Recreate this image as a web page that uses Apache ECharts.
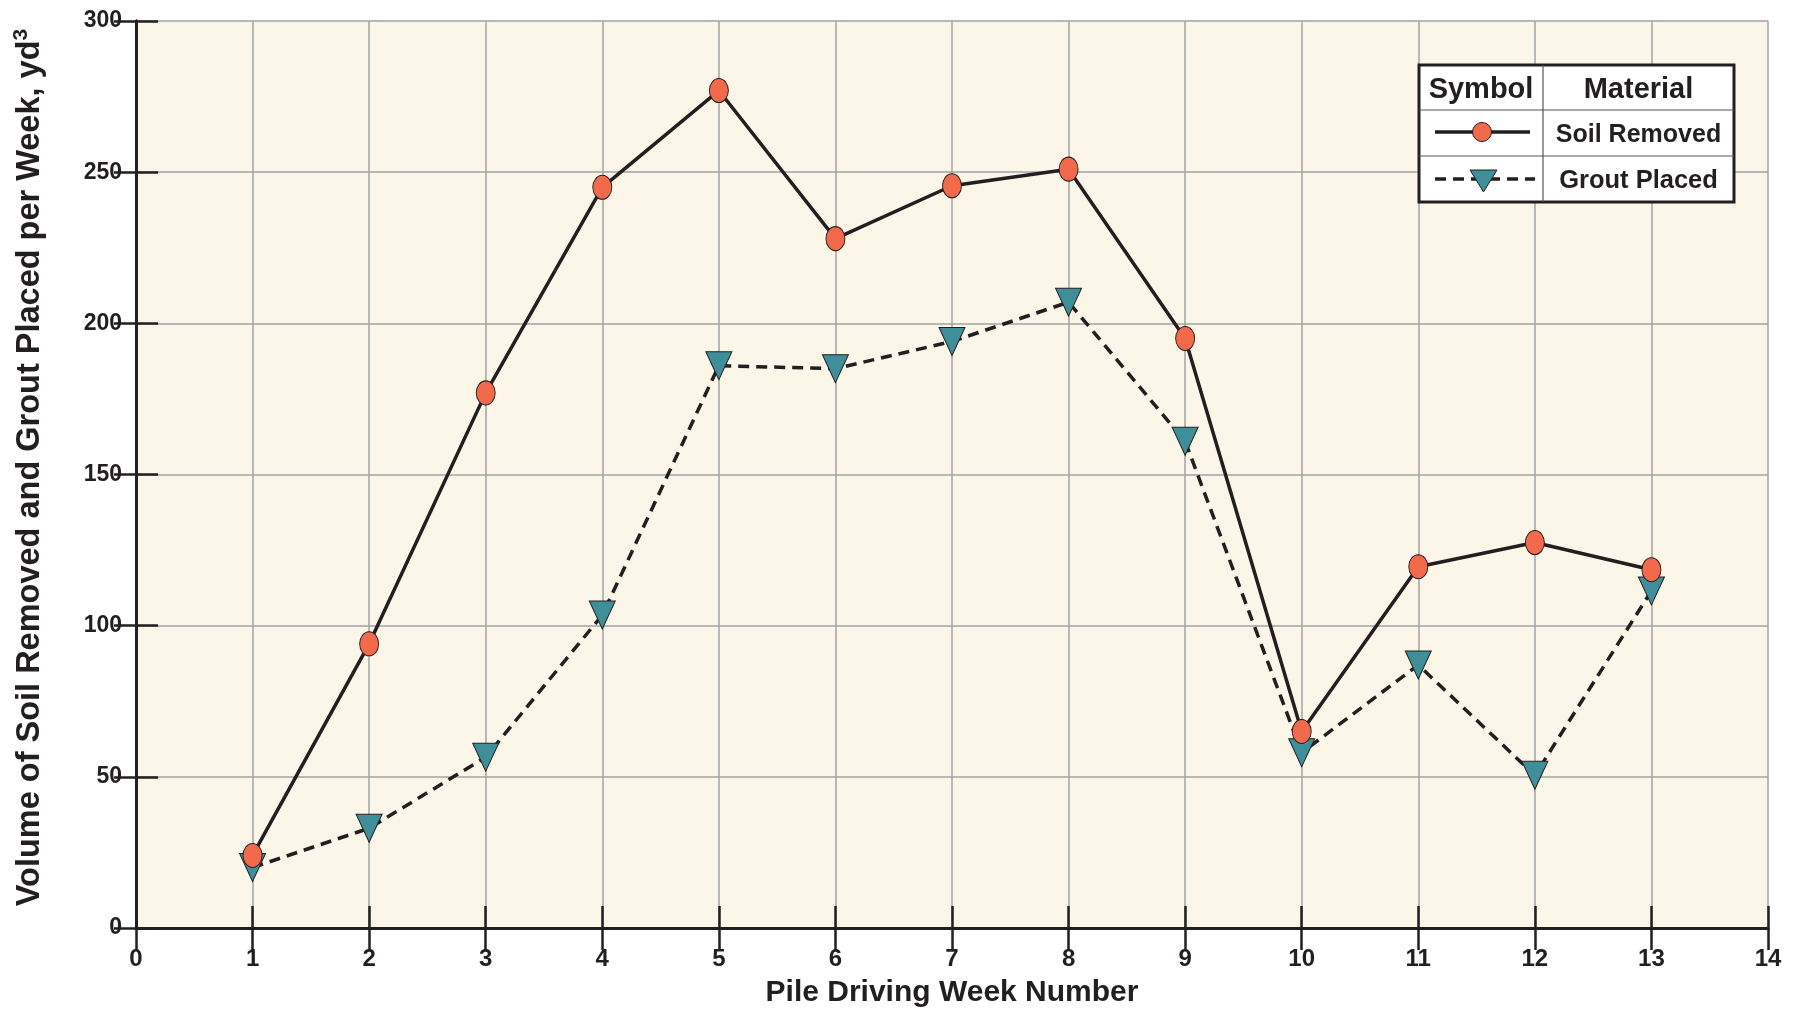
<!DOCTYPE html>
<html>
<head>
<meta charset="utf-8">
<script src="https://cdn.jsdelivr.net/npm/echarts@6/dist/echarts.min.js"></script>
<style>
  html, body { margin: 0; padding: 0; background: #fff; }
  #chart { width: 1805px; height: 1013px; }
</style>
</head>
<body>
<div id="chart"></div>
<script>
// week numbers and weekly volumes (yd3)
var weeks = [1, 2, 3, 4, 5, 6, 7, 8, 9, 10, 11, 12, 13];
var soilRemoved = [24, 94, 177, 245, 277, 228, 245.5, 251, 195, 65, 119.5, 127.5, 118.5];
var groutPlaced = [20, 33, 56.5, 103.5, 186, 185, 194, 207, 161, 58, 87, 50.5, 111.5];
var legendRows = ['Soil Removed', 'Grout Placed'];

var FONT = '"Liberation Sans", Arial, sans-serif';
var INK = '#231f20';

function pairs(vals) {
  return weeks.map(function (w, i) { return [w, vals[i]]; });
}

var chart = echarts.init(document.getElementById('chart'));

// legend table (Symbol | Material)
var lx = 1419, ly = 65, lw = 315, lh = 137, colX = 1543, row1 = 110, row2 = 156;
var midA = 132, midB = 179;
var legendGraphic = [
  { type: 'rect', shape: { x: lx, y: ly, width: lw, height: lh }, style: { fill: '#fff', stroke: INK, lineWidth: 3 }, z: 100 },
  { type: 'line', shape: { x1: colX, y1: ly, x2: colX, y2: ly + lh }, style: { stroke: '#555', lineWidth: 1.2 }, z: 101 },
  { type: 'line', shape: { x1: lx, y1: row1, x2: lx + lw, y2: row1 }, style: { stroke: '#555', lineWidth: 1.2 }, z: 101 },
  { type: 'line', shape: { x1: lx, y1: row2, x2: lx + lw, y2: row2 }, style: { stroke: '#555', lineWidth: 1.2 }, z: 101 },
  { type: 'text', x: (lx + colX) / 2, y: 90, style: { text: 'Symbol', font: 'bold 29px ' + FONT, fill: INK, align: 'center', verticalAlign: 'middle' }, z: 102 },
  { type: 'text', x: (colX + lx + lw) / 2, y: 90, style: { text: 'Material', font: 'bold 29px ' + FONT, fill: INK, align: 'center', verticalAlign: 'middle' }, z: 102 },
  { type: 'text', x: (colX + lx + lw) / 2, y: midA + 3, style: { text: legendRows[0], font: 'bold 25px ' + FONT, fill: INK, align: 'center', verticalAlign: 'middle' }, z: 102 },
  { type: 'text', x: (colX + lx + lw) / 2, y: midB + 2, style: { text: legendRows[1], font: 'bold 25.5px ' + FONT, fill: INK, align: 'center', verticalAlign: 'middle' }, z: 102 },
  { type: 'line', shape: { x1: 1435, y1: midA, x2: 1530, y2: midA }, style: { stroke: INK, lineWidth: 3.5 }, z: 102 },
  { type: 'circle', shape: { cx: 1482, cy: midA, r: 9.5 }, style: { fill: '#f26a4b', stroke: INK, lineWidth: 1 }, z: 103 },
  { type: 'line', shape: { x1: 1435, y1: midB, x2: 1535, y2: midB }, style: { stroke: INK, lineWidth: 3.5, lineDash: [11, 7] }, z: 102 },
  { type: 'polygon', shape: { points: [[1470, 170], [1497, 170], [1483.5, 192]] }, style: { fill: '#3f8f9b', stroke: INK, lineWidth: 1 }, z: 103 }
];

var option = {
  backgroundColor: '#fff',
  animation: false,
  grid: {
    left: 136, right: 37, top: 21, bottom: 82,
    show: true, backgroundColor: '#fcf6e9', borderWidth: 0
  },
  xAxis: [{
    type: 'value', min: 0, max: 14, interval: 1,
    name: 'Pile Driving Week Number', nameLocation: 'middle', nameGap: 50,
    nameTextStyle: { fontFamily: FONT, fontWeight: 'bold', fontSize: 30, color: INK },
    axisLine: { lineStyle: { color: INK, width: 3 } },
    axisTick: { inside: true, length: 22, lineStyle: { color: INK, width: 2.5 } },
    axisLabel: { fontFamily: FONT, fontWeight: 'bold', fontSize: 24, color: INK, margin: 19 },
    splitLine: { show: true, lineStyle: { color: '#a3a3a3', width: 1.5 } }
  }, {
    type: 'value', min: 0, max: 14, interval: 1, position: 'top',
    axisLine: { lineStyle: { color: INK, width: 3 } },
    axisTick: { inside: true, length: 22, lineStyle: { color: INK, width: 2.5 } },
    axisLabel: { show: false }, splitLine: { show: false }
  }],
  yAxis: [{
    type: 'value', min: 0, max: 300, interval: 50,
    name: 'Volume of Soil Removed and Grout Placed per Week, yd{sup|3}',
    nameLocation: 'middle', nameGap: 87,
    nameTextStyle: {
      fontFamily: FONT, fontWeight: 'bold', fontSize: 32.5, color: INK,
      padding: [0, 0, 0, 14],
      rich: { sup: { fontFamily: FONT, fontWeight: 'bold', fontSize: 21, color: INK, verticalAlign: 'top', padding: [0, 0, 17, 0] } }
    },
    axisLine: { show: true, lineStyle: { color: INK, width: 3 } },
    axisTick: { show: true, inside: true, length: 22, lineStyle: { color: INK, width: 2.5 } },
    axisLabel: { fontFamily: FONT, fontWeight: 'bold', fontSize: 23, color: INK, margin: 14 },
    splitLine: { show: true, lineStyle: { color: '#a3a3a3', width: 1.5 } }
  }, {
    type: 'value', min: 0, max: 300, interval: 50, position: 'right',
    axisLine: { show: true, lineStyle: { color: INK, width: 3 } },
    axisTick: { show: true, inside: true, length: 22, lineStyle: { color: INK, width: 2.5 } },
    axisLabel: { show: false }, splitLine: { show: false }
  }],
  series: [{
    name: 'Grout Placed', type: 'line', data: pairs(groutPlaced),
    symbol: 'triangle', symbolRotate: 180, symbolSize: [26, 28],
    lineStyle: { color: INK, width: 3.5, type: [11, 7] },
    itemStyle: { color: '#3f8f9b', borderColor: INK, borderWidth: 1 }, z: 3
  }, {
    name: 'Soil Removed', type: 'line', data: pairs(soilRemoved),
    symbol: 'circle', symbolSize: [19, 24],
    lineStyle: { color: INK, width: 3.5 },
    itemStyle: { color: '#f26a4b', borderColor: INK, borderWidth: 1 }, z: 4
  }],
  graphic: legendGraphic
};

chart.setOption(option);
</script>
</body>
</html>
